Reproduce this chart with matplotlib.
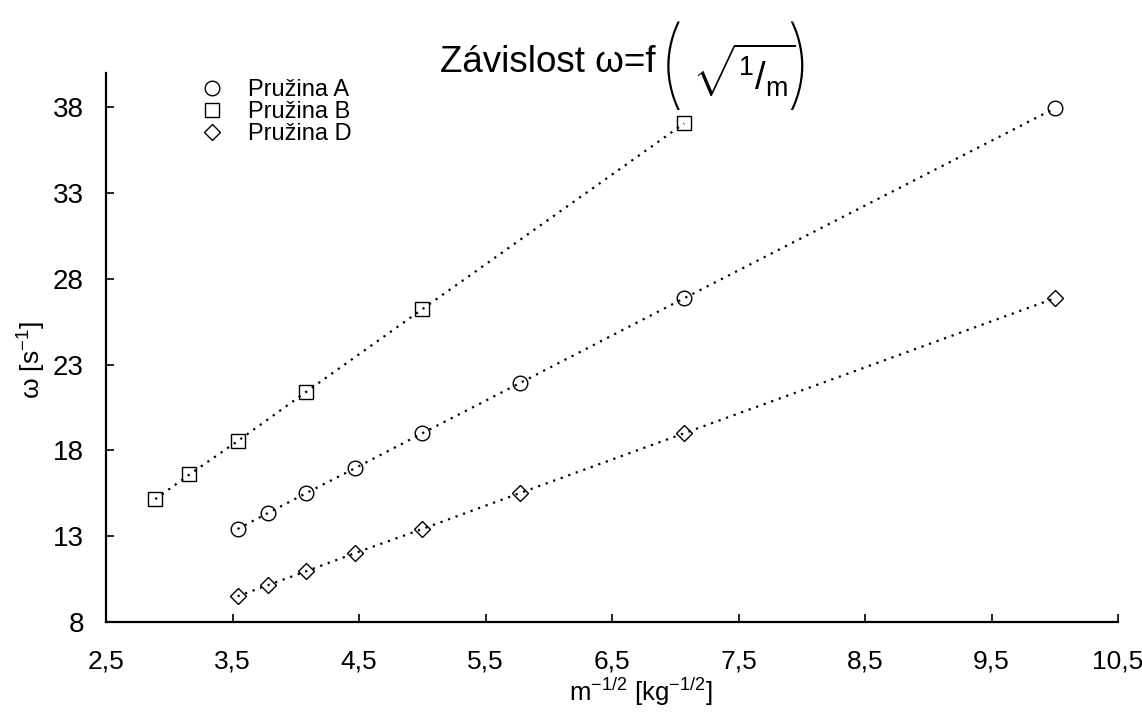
import matplotlib
matplotlib.use("Agg")
import matplotlib.pyplot as plt
from matplotlib import font_manager
from matplotlib.font_manager import FontProperties
from matplotlib.ticker import FixedLocator

# ---- data ----
x_A = [3.54, 3.78, 4.08, 4.47, 5.00, 5.77, 7.07, 10.00]
y_A = [13.42, 14.35, 15.50, 16.97, 19.00, 21.92, 26.87, 37.94]
x_B = [2.89, 3.16, 3.54, 4.08, 5.00, 7.07]
y_B = [15.16, 16.60, 18.54, 21.40, 26.23, 37.06]
x_D = [3.54, 3.78, 4.08, 4.47, 5.00, 5.77, 7.07, 10.00]
y_D = [9.50, 10.15, 10.95, 12.02, 13.42, 15.51, 19.00, 26.87]
labels = ["Pružina A", "Pružina B", "Pružina D"]
x_ticks = [2.5, 3.5, 4.5, 5.5, 6.5, 7.5, 8.5, 9.5, 10.5]
y_ticks = [8, 13, 18, 23, 28, 33, 38]

names = {f.name for f in font_manager.fontManager.ttflist}
base = "Liberation Sans" if "Liberation Sans" in names else "DejaVu Sans"
narrow = "Liberation Sans Narrow" if "Liberation Sans Narrow" in names else base

def _w(v):
    if isinstance(v, (int, float)):
        return v
    return font_manager.weight_dict.get(str(v).lower(), 400)

light = None
cands = [f for f in font_manager.fontManager.ttflist
         if f.name in ("Roboto", "Lato", "Open Sans", "Noto Sans", "Inter", "DejaVu Sans")
         and f.style == "normal" and _w(f.weight) <= 300 and f.stretch in ("normal", 500)]
if cands:
    cands.sort(key=lambda f: _w(f.weight))
    light = cands[0].fname

plt.rcParams['font.family'] = [base, 'DejaVu Sans']
plt.rcParams['mathtext.fontset'] = 'custom'
plt.rcParams['mathtext.rm'] = base
plt.rcParams['mathtext.it'] = base
plt.rcParams['mathtext.bf'] = base

fig = plt.figure(figsize=(11.42, 7.14), dpi=100)
ax = fig.add_axes([106/1142, 1-622/714, (1118-106)/1142, (622-73)/714])

dot = (0, (1, 2.6))
mk = dict(markerfacecolor='none', markeredgecolor='black', markeredgewidth=1.0,
          color='black', linewidth=1.6, linestyle=dot)
ax.plot(x_A, y_A, marker='o', markersize=10.5, label=labels[0], **mk)
ax.plot(x_B, y_B, marker='s', markersize=10, label=labels[1], **mk)
ax.plot(x_D, y_D, marker='D', markersize=8.5, label=labels[2], **mk)

ax.set_xlim(2.5, 10.5)
ax.set_ylim(8, 40)
ax.xaxis.set_major_locator(FixedLocator(x_ticks))
ax.yaxis.set_major_locator(FixedLocator(y_ticks))
ax.set_xticklabels([f"{v:.1f}".replace('.', ',') for v in x_ticks],
                   fontsize=19, family=narrow)
ax.set_yticklabels([str(v) for v in y_ticks], fontsize=20)

for s in ['top', 'right']:
    ax.spines[s].set_visible(False)
for s in ['left', 'bottom']:
    ax.spines[s].set_linewidth(1.6)
ax.tick_params(axis='both', direction='in', length=6, width=1.2)
ax.tick_params(axis='x', pad=20)
ax.tick_params(axis='y', pad=16)

ax.set_xlabel(r"m$^{-1/2}$ [kg$^{-1/2}$]", fontsize=18.5, family=narrow)
ax.set_ylabel(r"ω [s$^{-1}$]", fontsize=19)
ax.xaxis.set_label_coords((641-106)/1012, (622-676)/549)
ax.yaxis.set_label_coords((48-106)/1012, (622-360)/549)

handles = [plt.Line2D([], [], linestyle='none', marker=m, markersize=ms,
                      markerfacecolor='none', markeredgecolor='black', markeredgewidth=1.0)
           for m, ms in [('o', 10.5), ('s', 10), ('D', 8.5)]]
leg = ax.legend(handles, labels, loc='upper left', bbox_to_anchor=(0.07, 1.027),
                frameon=False, prop={'family': narrow, 'size': 17},
                handletextpad=0.9, labelspacing=0.0, handlelength=1.2)

# title: text + big parentheses around sqrt(1/m)
fig.text(656/1142, 1-62/714, "Závislost ω=f",
         fontsize=26.5, ha='right', va='center')
fig.text(692/1142, 1-70/714, r"$\sqrt{^{1}/_{\mathrm{m}}}$",
         fontsize=27.5, ha='left', va='center')
if light is not None:
    pp = FontProperties(fname=light, size=70)
    fig.text(656/1142, 1-72/714, "(", fontproperties=pp, ha='left', va='center')
    fig.text(783/1142, 1-72/714, ")", fontproperties=pp, ha='left', va='center')
else:
    fig.text(656/1142, 1-64/714, r"$\left(\right.$", fontsize=58, ha='left', va='center')
    fig.text(783/1142, 1-64/714, r"$\left.\right)$", fontsize=58, ha='left', va='center')

fig.savefig("out.png", dpi=100)
